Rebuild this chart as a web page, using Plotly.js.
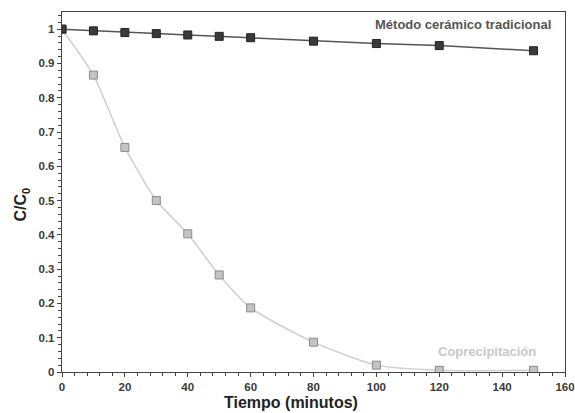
<!DOCTYPE html>
<html>
<head>
<meta charset="utf-8">
<script src="https://cdn.plot.ly/plotly-3.0.1.min.js"></script>
<style>html,body{margin:0;padding:0;background:#fff;}#chart{width:575px;height:413px;}</style>
</head>
<body>
<div id="chart"></div>
<script>
const tiempo = [0, 10, 20, 30, 40, 50, 60, 80, 100, 120, 150];
const ceramico = [1, 0.995, 0.99, 0.987, 0.983, 0.979, 0.975, 0.965, 0.958, 0.952, 0.937];
const coprecipitacion = [1, 0.866, 0.655, 0.5, 0.403, 0.283, 0.187, 0.087, 0.02, 0.005, 0.005];
const nombreCeramico = "Método cerámico tradicional";
const nombreCopre = "Coprecipitación";
const xTicks = [0, 20, 40, 60, 80, 100, 120, 140, 160];
const yTicks = [0, 0.1, 0.2, 0.3, 0.4, 0.5, 0.6, 0.7, 0.8, 0.9, 1];

const traces = [
  {
    x: tiempo, y: coprecipitacion, mode: 'lines+markers', name: nombreCopre,
    line: {color: '#cfcfcf', width: 1.5, shape: 'spline', smoothing: 0.6},
    marker: {symbol: 'square', size: 8, color: '#c4c4c4', line: {color: '#8a8a8a', width: 1}}
  },
  {
    x: tiempo, y: ceramico, mode: 'lines+markers', name: nombreCeramico,
    line: {color: '#555555', width: 1.5},
    marker: {symbol: 'square', size: 8, color: '#3a3a3a', line: {color: '#222', width: 1}}
  }
];

const FF = 'Liberation Sans, Arial, sans-serif';
const tickFont = {family: FF, size: 11.5, color: '#3a3a3a'};

const layout = {
  width: 575, height: 413,
  margin: {l: 62, r: 10, t: 12, b: 41},
  paper_bgcolor: '#fff', plot_bgcolor: '#fff',
  showlegend: false,
  xaxis: {
    range: [0, 160], showgrid: false, zeroline: false,
    showline: true, linecolor: '#444', linewidth: 1.2, mirror: true,
    tickvals: xTicks, ticktext: xTicks.map(v => '<b>' + v + '</b>'),
    ticks: 'outside', ticklen: 4, tickcolor: '#444',
    minor: {dtick: 4, tick0: 0, ticks: 'outside', ticklen: 2.5, tickcolor: '#444'},
    tickfont: tickFont
  },
  yaxis: {
    range: [0, 1.05], showgrid: false, zeroline: false,
    showline: true, linecolor: '#444', linewidth: 1.2, mirror: true,
    tickvals: yTicks, ticktext: yTicks.map(v => '<b>' + v + '</b>'),
    ticks: 'outside', ticklen: 4, tickcolor: '#444',
    minor: {dtick: 0.02, tick0: 0, ticks: 'outside', ticklen: 2.5, tickcolor: '#444'},
    tickfont: tickFont
  },
  annotations: [
    {x: 0.455, xref: 'paper', xanchor: 'center', y: 0, yref: 'paper', yanchor: 'top', yshift: -20,
     text: '<b>Tiempo (minutos)</b>', showarrow: false,
     font: {family: FF, size: 16, color: '#222'}},
    {x: 0, xref: 'paper', xanchor: 'center', xshift: -40, y: 0.465, yref: 'paper', yanchor: 'middle',
     text: '<b>C/C<sub>0</sub></b>', showarrow: false, textangle: -90,
     font: {family: FF, size: 16, color: '#222'}},
    {x: 1, xref: 'paper', xanchor: 'right', y: 1.0, yref: 'paper', yanchor: 'bottom', xshift: -12, yshift: -22,
     text: '<b>' + nombreCeramico + '</b>', showarrow: false,
     font: {family: FF, size: 13, color: '#555'}},
    {x: 1, xref: 'paper', xanchor: 'right', y: 0, yref: 'paper', yanchor: 'bottom', xshift: -27, yshift: 11,
     text: '<b>' + nombreCopre + '</b>', showarrow: false,
     font: {family: FF, size: 13, color: '#c8c8c8'}}
  ]
};

Plotly.newPlot('chart', traces, layout, {displayModeBar: false, staticPlot: true});
</script>
</body>
</html>
